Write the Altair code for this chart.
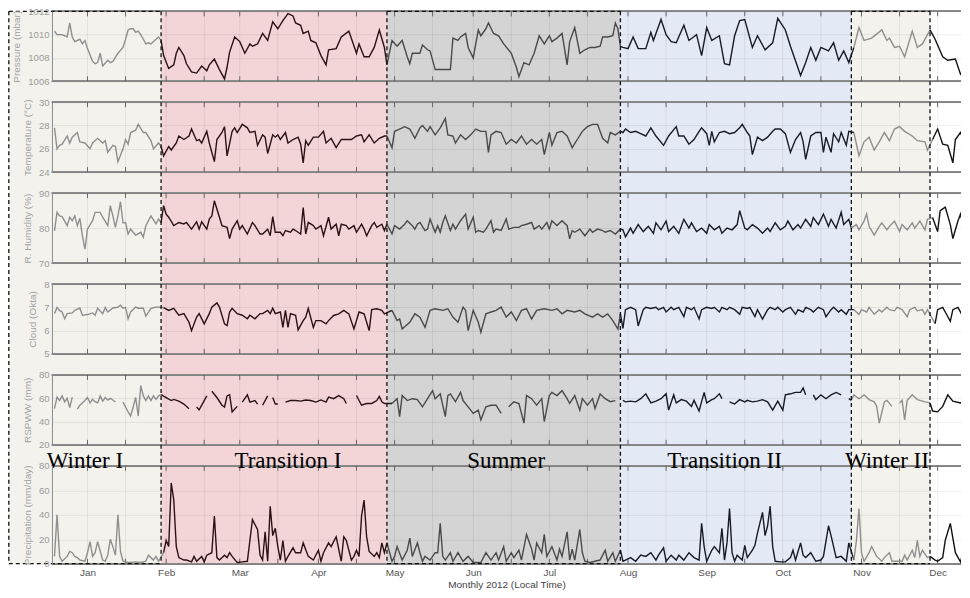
import altair as alt
import pandas as pd

# ---------------- time frame ----------------
START = "2011-12-18"
season_names = ["Winter I", "Transition I", "Summer", "Transition II", "Winter II"]
season_start = ["2011-12-01", "2012-01-30", "2012-04-28", "2012-07-29", "2012-10-28"]
season_end = ["2012-01-30", "2012-04-28", "2012-07-29", "2012-10-28", "2012-11-28"]
season_fill = ["#f3f2ed", "#f3d5d7", "#d4d4d4", "#e3e9f5", "#f3f2ed"]
line_colors = ["#8f8f8f", "#2a1114", "#4a4a4a", "#161b27", "#8f8f8f", "#121212"]
label_dates = ["2011-12-31", "2012-03-20", "2012-06-14", "2012-09-08", "2012-11-11"]
box_start = ["2011-12-01", "2012-04-28", "2012-10-28"]
box_end = ["2012-01-30", "2012-07-29", "2012-11-28"]
boundaries = ["2011-12-01", "2012-01-30", "2012-04-28", "2012-07-29", "2012-10-28", "2012-11-28"]
month_ticks = ["2012-01-01", "2012-01-16", "2012-02-01", "2012-02-16", "2012-03-01", "2012-03-16",
               "2012-04-01", "2012-04-16", "2012-05-01", "2012-05-16", "2012-06-01", "2012-06-16",
               "2012-07-01", "2012-07-16", "2012-08-01", "2012-08-16", "2012-09-01", "2012-09-16",
               "2012-10-01", "2012-10-16", "2012-11-01", "2012-11-16", "2012-12-01"]

# ---------------- series (day offset from START, value) ----------------
pressure_day = [1, 2, 4, 6, 7, 8, 9, 11, 12, 13, 14, 16, 17, 18, 19, 20, 22, 23, 24, 26, 28, 29, 30, 31, 32, 33, 34, 35, 36, 37, 38, 39, 41, 42, 43,
                44, 46, 48, 49, 50, 52, 53, 55, 57, 59, 61, 62, 64, 66, 68, 69, 70, 72, 74, 76, 78, 79, 81, 83, 85, 87, 89, 91, 93, 95, 96, 98, 99, 101, 102, 104, 106, 108, 109, 112, 114, 117, 120, 121, 123, 125, 127, 129, 131, 132,
                134, 136, 138, 140, 141, 142, 145, 146, 148, 149, 151, 154, 157, 158, 160, 161, 163, 164, 166, 168, 169, 171, 172, 174, 176, 178, 181, 183, 184, 186, 188, 190, 192, 194, 196, 197, 199, 201, 203, 204, 206, 208, 210, 212, 214, 216, 217, 219, 221, 222, 223, 224,
                225, 227, 229, 231, 234, 236, 237, 240, 242, 244, 246, 249, 251, 254, 256, 258, 260, 263, 265, 267, 269, 271, 273, 276, 278, 281, 284, 286, 289, 291, 295, 297, 299, 301, 303, 306, 308, 310, 312, 314,
                316, 318, 320, 323, 327, 329, 330, 332, 334, 336, 339, 341, 343, 346,
                348, 351, 353, 356, 358, 360]
pressure_val = [1010.3, 1010.0, 1010.0, 1009.8, 1011.0, 1009.8, 1009.4, 1009.6, 1009.2, 1009.5, 1008.8, 1007.7, 1007.5, 1007.6, 1008.4, 1007.3, 1007.8, 1007.6, 1007.7, 1008.4, 1008.9, 1009.6, 1010.4, 1010.5, 1010.5, 1010.2, 1010.3, 1010.0, 1009.6, 1009.2, 1009.3, 1009.2, 1009.6, 1009.8, 1009.5,
                1008.2, 1007.1, 1007.4, 1008.4, 1008.9, 1008.2, 1007.5, 1006.8, 1006.7, 1007.3, 1006.9, 1007.4, 1007.9, 1007.0, 1006.2, 1007.2, 1008.5, 1009.8, 1009.4, 1008.4, 1009.2, 1009.0, 1009.2, 1010.1, 1009.5, 1011.1, 1010.5, 1011.2, 1011.8, 1011.6, 1011.0, 1010.8, 1010.1, 1010.3, 1009.5, 1009.3, 1008.2, 1007.4, 1008.7, 1008.8, 1009.8, 1010.3, 1008.4, 1009.2, 1008.1, 1008.1, 1008.9, 1010.4, 1008.9, 1007.4,
                1009.5, 1009.0, 1009.5, 1008.1, 1007.5, 1008.4, 1008.4, 1009.1, 1008.7, 1008.6, 1007.0, 1007.0, 1007.0, 1009.7, 1009.5, 1009.8, 1010.1, 1008.9, 1008.0, 1010.4, 1009.9, 1010.5, 1011.0, 1010.1, 1009.9, 1009.2, 1008.4, 1007.2, 1006.4, 1007.6, 1007.4, 1008.4, 1009.9, 1009.2, 1009.9, 1009.4, 1009.7, 1010.1, 1007.4, 1009.4, 1010.6, 1008.4, 1008.7, 1008.9, 1008.9, 1009.0, 1009.8, 1009.8, 1009.9, 1011.0, 1010.5, 1009.0,
                1008.9, 1008.8, 1009.8, 1008.8, 1008.8, 1010.2, 1009.5, 1011.3, 1010.0, 1009.4, 1009.3, 1010.8, 1009.5, 1010.0, 1008.2, 1010.6, 1009.5, 1009.9, 1007.5, 1007.4, 1009.9, 1011.2, 1011.3, 1008.9, 1009.9, 1008.7, 1009.3, 1011.4, 1010.4, 1009.0, 1006.5, 1007.6, 1008.9, 1007.8, 1008.9, 1008.6, 1009.3, 1007.8, 1008.6, 1007.6,
                1008.9, 1010.6, 1009.5, 1009.7, 1010.4, 1009.5, 1009.7, 1008.9, 1009.0, 1008.1, 1010.3, 1008.9, 1009.2, 1010.4,
                1009.6, 1008.1, 1007.8, 1007.9, 1006.6, 1007.1]

temp_day = [1, 2, 3, 4, 6, 7, 8, 10, 11, 13, 15, 16, 18, 20, 21, 22, 24, 25, 26, 28, 29, 30, 31, 33, 34, 36, 37, 39, 40, 42, 43,
            44, 46, 47, 49, 50, 52, 54, 55, 57, 58, 59, 61, 62, 64, 65, 67, 68, 69, 71, 72, 73, 75, 77, 78, 80, 81, 83, 84, 85, 87, 88, 89, 90, 92, 93, 95, 97, 98, 99, 100, 101, 103, 105, 107, 108, 110, 112, 114, 116, 118, 120, 122, 123, 125, 127, 129, 131,
            132, 134, 135, 137, 139, 141, 143, 145, 146, 148, 149, 151, 153, 155, 156, 158, 159, 161, 163, 165, 167, 169, 171, 172, 173, 175, 177, 179, 181, 183, 185, 187, 189, 191, 193, 194, 196, 197, 199, 201, 203, 205, 207, 209, 211, 213, 215, 217, 219, 220, 222, 224,
            225, 226, 228, 230, 232, 234, 236, 238, 241, 243, 246, 247, 249, 251, 253, 255, 256, 258, 259, 260, 261, 263, 265, 267, 269, 271, 272, 274, 275, 276, 278, 280, 282, 284, 285, 287, 289, 291, 293, 295, 296, 297, 299, 301, 303, 304, 305, 307, 308, 310, 311, 313, 314,
            316, 318, 320, 322, 324, 326, 328, 330, 332, 334, 336, 339, 341, 344, 345,
            347, 349, 351, 353, 355, 356, 358, 360]
temp_val = [27.8, 26.0, 26.3, 26.4, 27.1, 26.5, 27.0, 27.4, 26.6, 26.5, 26.0, 26.5, 26.9, 26.5, 26.7, 25.7, 26.3, 26.2, 24.9, 26.0, 26.8, 26.4, 27.4, 27.6, 28.1, 27.4, 27.4, 26.7, 26.0, 26.5, 26.2,
            25.4, 26.2, 25.9, 26.5, 27.1, 26.8, 27.1, 27.7, 26.7, 26.8, 26.5, 27.5, 26.5, 24.9, 26.8, 27.4, 27.9, 25.4, 27.5, 27.8, 27.4, 28.1, 27.8, 27.4, 27.5, 26.3, 27.2, 27.0, 25.6, 27.2, 27.0, 27.2, 26.8, 27.4, 26.5, 26.8, 27.0, 26.4, 24.8, 26.7, 26.3, 27.0, 27.0, 27.5, 26.5, 26.9, 26.1, 26.8, 26.8, 26.8, 27.1, 27.2, 26.6, 27.2, 26.5, 26.9, 27.1,
            27.1, 26.1, 27.5, 27.7, 27.9, 27.7, 26.9, 27.8, 28.0, 27.5, 27.9, 27.2, 27.8, 28.6, 27.2, 27.1, 26.5, 27.2, 26.8, 27.2, 27.7, 27.5, 27.5, 25.7, 27.2, 27.5, 27.4, 26.4, 26.8, 26.5, 27.1, 26.4, 26.8, 26.4, 26.8, 25.5, 27.4, 26.3, 27.4, 27.5, 27.1, 26.1, 26.8, 27.5, 27.9, 28.1, 28.1, 26.9, 26.5, 27.4, 27.2, 27.5,
            27.4, 27.7, 27.4, 27.5, 27.3, 27.1, 27.8, 27.1, 26.3, 27.1, 27.9, 27.1, 27.1, 26.4, 26.8, 27.5, 27.8, 27.3, 26.3, 27.5, 26.6, 27.4, 27.5, 27.3, 27.4, 27.8, 28.1, 27.4, 27.1, 25.5, 27.0, 26.7, 27.0, 27.5, 27.7, 27.7, 27.3, 25.7, 26.8, 27.4, 26.6, 25.1, 27.1, 27.4, 27.4, 25.7, 27.0, 25.7, 27.3, 26.6, 27.4, 26.3, 27.5,
            27.4, 25.4, 26.6, 27.0, 25.9, 26.6, 27.4, 26.7, 27.7, 27.9, 27.5, 27.1, 26.7, 26.6, 25.9,
            26.8, 27.7, 26.4, 26.3, 24.8, 26.8, 27.4, 26.4]

hum_day = [1, 2, 3, 4, 6, 7, 8, 9, 10, 11, 12, 13, 14, 16, 17, 19, 20, 22, 23, 24, 25, 26, 27, 28, 29, 30, 31, 32, 33, 35, 36, 37, 39, 41, 42,
           43, 44, 45, 46, 48, 50, 52, 53, 55, 57, 58, 59, 61, 62, 63, 64, 66, 67, 69, 70, 71, 73, 74, 75, 77, 79, 80, 82, 83, 85, 86, 87, 88, 90, 91, 92, 94, 95, 96, 98, 99, 100, 101, 103, 104, 106, 107, 109, 110, 112, 113, 114, 116, 117, 119, 120, 122, 123, 124, 126, 127, 128, 130, 131,
           132, 134, 135, 137, 139, 140, 142, 143, 144, 145, 147, 148, 149, 151, 152, 153, 154, 155, 157, 158, 159, 161, 163, 164, 166, 167, 168, 170, 171, 173, 174, 175, 177, 179, 180, 182, 184, 185, 187, 189, 190, 192, 193, 195, 196, 197, 199, 201, 203, 204, 205, 206, 208, 210, 212, 213, 215, 217, 218, 220, 222, 224,
           225, 226, 228, 229, 231, 233, 235, 237, 238, 240, 242, 243, 245, 247, 249, 251, 252, 254, 256, 258, 259, 261, 263, 264, 266, 268, 270, 271, 273, 274, 276, 278, 280, 282, 283, 285, 287, 289, 290, 292, 294, 295, 297, 299, 300, 302, 304, 306, 307, 309, 311, 312, 314,
           315, 317, 318, 320, 321, 322, 324, 326, 327, 329, 330, 332, 334, 335, 337, 339, 340, 342, 344, 345,
           347, 349, 350, 352, 354, 355, 357, 358, 360, 361]
hum_val = [79.2, 84.5, 83.5, 83.3, 80.7, 83.1, 82.1, 83.5, 80.7, 82.8, 77.8, 74.0, 79.7, 82.1, 84.5, 84.5, 83.1, 80.7, 86.4, 83.5, 80.2, 83.5, 87.5, 81.5, 81.6, 78.3, 79.7, 78.8, 78.0, 78.8, 77.4, 80.7, 83.5, 81.2, 82.6,
           81.6, 86.4, 84.0, 83.1, 80.7, 81.6, 81.2, 81.6, 79.7, 81.8, 79.7, 81.8, 79.7, 82.6, 83.5, 87.8, 83.1, 80.7, 80.2, 77.0, 79.7, 82.1, 79.7, 80.7, 78.3, 81.6, 80.7, 78.3, 78.3, 79.7, 77.8, 83.3, 78.8, 78.8, 77.8, 79.3, 78.8, 79.7, 79.3, 78.3, 85.9, 78.3, 81.6, 80.7, 79.7, 80.7, 77.8, 83.1, 79.7, 81.1, 77.8, 81.1, 80.7, 79.7, 80.7, 78.8, 81.1, 79.7, 77.8, 80.7, 81.6, 80.2, 81.1, 79.3,
           81.1, 78.3, 80.7, 79.7, 81.1, 82.1, 80.7, 79.7, 81.1, 81.6, 79.3, 79.7, 82.6, 78.8, 80.7, 78.8, 81.6, 83.5, 79.3, 81.1, 79.7, 82.1, 84.0, 79.7, 83.1, 78.8, 79.3, 78.8, 79.7, 82.1, 78.8, 79.7, 79.3, 82.6, 79.7, 80.2, 80.2, 80.7, 81.1, 81.6, 79.7, 80.7, 79.7, 81.6, 79.7, 82.1, 80.7, 82.1, 80.7, 76.9, 79.3, 78.8, 79.7, 77.8, 79.7, 78.8, 79.7, 79.3, 78.8, 79.3, 78.3, 79.7,
           79.5, 77.5, 80.0, 78.5, 81.0, 79.0, 80.5, 78.5, 81.5, 79.5, 82.0, 79.0, 80.5, 78.5, 82.5, 80.0, 81.5, 79.0, 80.0, 78.5, 81.0, 79.5, 80.5, 78.5, 80.0, 79.5, 81.0, 85.0, 80.0, 79.5, 81.0, 80.0, 78.5, 80.0, 79.0, 81.5, 79.5, 80.5, 82.0, 79.5, 81.0, 80.0, 82.5, 80.5, 83.0, 81.0, 84.0, 80.5, 82.5, 80.0, 84.5, 81.0, 82.5,
           80.0, 81.0, 79.5, 82.0, 84.0, 80.5, 78.0, 80.5, 81.5, 79.5, 80.5, 82.0, 79.0, 81.0, 79.5, 81.5, 80.0, 82.0, 79.5, 82.5,
           83.0, 79.0, 85.0, 86.0, 81.0, 77.0, 82.0, 84.0, 78.0, 82.0]

cloud_day = [1, 2, 3, 4, 5, 6, 8, 9, 11, 12, 14, 16, 17, 18, 20, 21, 22, 24, 26, 27, 28, 29, 30, 31, 33, 34, 36, 37, 39, 41, 42,
             44, 46, 48, 50, 52, 54, 55, 57, 58, 60, 62, 63, 65, 66, 68, 69, 70, 71, 73, 75, 77, 78, 80, 82, 83, 85, 86, 87, 88, 90, 91, 92, 93, 94, 96, 97, 99, 100, 101, 103, 104, 106, 108, 109, 111, 113, 115, 117, 119, 121, 123, 125, 126, 128, 130, 131,
             134, 136, 137, 138, 141, 143, 145, 147, 149, 151, 154, 156, 158, 160, 162, 163, 164, 166, 168, 169, 171, 173, 175, 177, 179, 181, 183, 185, 187, 189, 191, 194, 197, 199, 201, 203, 206, 208, 210, 213, 215, 217, 219, 221, 223, 224,
             225, 226, 228, 230, 231, 233, 234, 236, 238, 239, 241, 242, 244, 245, 247, 249, 250, 252, 253, 255, 256, 258, 260, 261, 263, 264, 266, 267, 269, 271, 272, 274, 275, 277, 278, 280, 282, 283, 285, 286, 288, 289, 291, 293, 294, 296, 297, 299, 300, 302, 304, 305, 307, 308, 310, 311, 313, 314,
             316, 318, 319, 321, 322, 324, 326, 327, 329, 330, 332, 333, 335, 337, 338, 340, 341, 343, 344, 345,
             348, 349, 351, 352, 354, 355, 357, 359, 360]
cloud_val = [6.73, 6.99, 6.87, 6.80, 6.51, 6.73, 6.76, 6.87, 6.97, 6.66, 6.69, 6.76, 6.66, 6.96, 6.73, 6.99, 6.80, 6.97, 7.01, 7.09, 6.96, 6.99, 6.51, 6.80, 7.01, 6.96, 6.96, 6.62, 6.96, 7.01, 7.01,
             6.99, 6.87, 6.96, 6.66, 6.73, 6.36, 6.00, 6.58, 6.73, 6.29, 6.73, 7.01, 7.19, 7.01, 6.29, 6.22, 6.80, 6.96, 6.73, 6.66, 6.51, 6.66, 6.51, 6.73, 6.73, 6.87, 6.73, 6.96, 6.73, 6.80, 6.14, 6.87, 6.14, 6.73, 6.66, 6.03, 6.43, 6.58, 6.96, 6.14, 6.43, 6.43, 6.29, 6.43, 6.65, 6.72, 6.87, 6.72, 6.07, 6.80, 6.72, 6.00, 6.90, 6.94, 6.87, 6.72,
             6.87, 6.43, 6.50, 6.07, 6.36, 6.72, 6.58, 6.14, 6.87, 6.94, 6.87, 6.94, 6.58, 6.36, 7.01, 6.87, 6.00, 6.87, 6.36, 5.93, 6.72, 6.80, 6.87, 7.01, 6.58, 6.80, 6.43, 6.87, 6.94, 6.50, 6.87, 6.94, 6.87, 6.94, 6.72, 6.87, 6.80, 6.87, 6.72, 6.58, 6.72, 6.58, 6.72, 6.43, 6.07, 6.72,
             6.10, 6.90, 7.00, 6.90, 6.20, 6.90, 7.00, 6.95, 7.00, 6.90, 7.00, 6.80, 7.00, 6.90, 7.00, 6.60, 7.00, 6.90, 7.00, 6.50, 6.90, 7.00, 6.95, 7.00, 6.80, 7.00, 6.90, 7.00, 6.90, 6.70, 7.00, 6.95, 7.00, 6.60, 6.90, 6.50, 6.90, 7.00, 6.90, 7.00, 6.80, 6.90, 7.00, 6.70, 6.90, 6.80, 7.00, 6.90, 6.80, 7.00, 6.90, 6.60, 6.90, 7.00, 6.80, 6.90, 6.70, 6.90,
             6.90, 6.70, 6.90, 6.80, 7.00, 6.70, 6.90, 6.80, 7.00, 6.90, 6.85, 7.00, 6.90, 6.60, 6.90, 7.00, 6.85, 6.90, 6.70, 6.90,
             6.30, 6.90, 7.00, 6.80, 6.40, 6.90, 7.00, 6.60, 7.00]

rspww_day = [1, 2, 3, 4, 5, 6, 7, 8, 9, 10, 11, 12, 13, 14, 15, 16, 17, 18, 19, 20, 21, 22, 23, 24, 25, 26, 28, 29, 30, 31, 32, 33, 34, 35, 36, 37, 38, 39, 40, 41, 42,
             43, 45, 47, 48, 50, 52, 54, 55, 57, 58, 60, 61, 62, 63, 65, 67, 68, 69, 70, 71, 73, 74, 75, 77, 78, 80, 81, 82, 83, 85, 86, 87, 88, 89, 90, 92, 94, 96, 98, 100, 102, 104, 106, 108, 109, 111, 113, 115, 116, 117, 120, 122, 124, 126, 128, 129, 130, 131,
             134, 136, 137, 138, 140, 142, 144, 146, 148, 150, 151, 153, 155, 156, 157, 159, 161, 162, 164, 166, 168, 169, 171, 173, 175, 177, 178, 180, 182, 184, 186, 187, 189, 191, 193, 194, 196, 197, 199, 201, 203, 204, 206, 208, 209, 211, 213, 214, 216, 218, 220, 222, 223,
             225, 226, 228, 230, 232, 234, 236, 238, 240, 242, 243, 245, 246, 248, 250, 252, 253, 255, 257, 258, 260, 261, 263, 264, 265, 267, 269, 271, 273, 274, 276, 278, 280, 282, 284, 286, 288, 289, 291, 293, 295, 296, 297, 298, 300, 301, 303, 305, 307, 309, 311, 312, 314,
             315, 316, 318, 320, 322, 324, 325, 326, 328, 329, 331, 332, 334, 335, 336, 337, 339, 341, 342, 344, 346,
             347, 349, 351, 353, 355, 358, 360]
rspww_val = [51, 61, 58, 62, 57, 60, 52, 61, None, 50.6, 54, 56, 58, 60.6, 56, 59, 57, 56, 62, 57.5, 60.6, 58.5, 60, 58.5, 56.7, None, 56.7, 52.5, 48.3, 44.7, 52.5, 60.6, 44.7, 70.8, 62, 58, 62, 58, 62, 59, 62,
             63, 60.6, 58, 59, 57.5, 55, 51, None, 52.5, 50, 58, 62, None, 66, 60.6, 54, 52.5, 62, 63, 48.3, 53, None, 56.7, 63, 56.7, 58, 55, None, 54, 62, None, 60.6, 55, 55, None, 56.7, 58, 58, 57.5, 58.5, 58, 56.7, 58.5, 56.7, 61, 59.6, 62.3, 59.6, 55.5, None, 62.3, 54, 55.5, 55.5, 58, 61.5, 57, 55.5,
             55.5, 59.6, 44.2, 62.3, 58, 59.6, 58.8, 52.6, 59.6, 66.5, 59.6, 63.7, 44.2, 62.3, 63.7, 57, 65, 58, 52.6, 47, 49.8, 41.3, 52.6, 54, 54, 47, None, 52.6, 57, 55.5, 38.6, 62.3, 59.6, 54, 59.6, 40, 62.3, 65, 62.3, 66.5, 59.6, 55.5, 62.3, 49.8, 59.6, 54, 59.6, 51.2, 63.7, 59.6, 57, 58, None,
             58.2, 56.9, 57.5, 56.9, 59.6, 63.8, 56, 57.5, 59.6, 63.8, 49.8, 62.9, 56, 58.8, 57.5, 53, 58.2, 49, 65, 56, 58.8, 59.6, 63.8, 59.6, None, 56.9, 55, 58.8, 56.9, 58.2, 56.9, 57.5, 58.8, 56.9, 49.8, 57.5, 49.8, 62.9, 63.8, 65, 65, 68.8, 62.9, None, 62.9, 58.8, 62.9, 59.6, 62.9, 65, 62.9, None, 59.6,
             58.2, 62.9, 59.6, 62.9, 58.8, 56.9, 53, 38.6, 56.9, 58.2, 53, None, 56, 58.2, 41.3, 58.2, 62.9, 58.8, 58.2, 56.9, 56,
             49, 48.3, 53, 62.9, 57.5, 56, 58.2]

precip_day = [1, 2, 3, 4, 6, 7, 8, 9, 10, 11, 13, 14, 15, 16, 17, 18, 20, 21, 22, 23, 24, 25, 26, 27, 28, 30, 31, 33, 35, 37, 38, 40, 41, 42,
              44, 45, 46, 47, 48, 49, 50, 52, 53, 55, 56, 57, 59, 60, 61, 63, 64, 65, 66, 68, 69, 70, 71, 73, 75, 77, 78, 79, 81, 82, 83, 84, 85, 86, 87, 88, 89, 90, 91, 92, 93, 95, 96, 98, 99, 101, 103, 105, 106, 107, 109, 110, 112, 114, 115, 116, 118, 119, 120, 121, 122, 123, 124, 125, 127, 128, 129, 130, 131,
              132, 134, 135, 136, 138, 140, 141, 142, 144, 145, 146, 147, 149, 151, 152, 153, 154, 155, 157, 158, 160, 162, 164, 166, 168, 169, 171, 173, 175, 176, 178, 179, 181, 182, 184, 185, 187, 189, 190, 191, 193, 194, 195, 197, 199, 200, 201, 203, 204, 205, 206, 208, 209, 210, 212, 214, 216, 218, 219, 221, 222, 224,
              225, 226, 228, 230, 232, 234, 236, 238, 239, 241, 242, 244, 246, 247, 249, 251, 253, 255, 256, 257, 258, 260, 261, 263, 264, 265, 266, 267, 268, 269, 270, 272, 273, 274, 276, 277, 278, 280, 281, 282, 283, 284, 285, 287, 289, 291, 292, 293, 295, 296, 297, 299, 301, 303, 304, 306, 307, 309, 311, 313, 314,
              316, 317, 318, 319, 320, 322, 323, 325, 327, 328, 330, 331, 333, 335, 336, 337, 339, 340, 341, 342, 343, 345,
              346, 348, 349, 351, 352, 354, 356, 358, 359, 361]
precip_val = [6, 40, 6, 2, 6, 10, 9, 6, 5, 3, 2, 9, 18, 6, 9, 18, 3, 2, 7, 20, 14, 7, 40, 10, 2, 1, 1, 1.5, 1, 2, 7, 3, 6, 2,
              9, 19, 14, 66, 52, 14, 5, 3, 3, 1.5, 6, 2, 6, 1.5, 7, 9, 39, 5, 3, 7, 5, 9, 6, 1, 1.5, 2, 19, 36, 28, 7, 3, 26, 2, 47, 23, 29, 14, 3, 19, 2, 6, 13, 9, 9, 17, 6, 3, 11, 2, 9, 17, 14, 22, 2, 22, 19, 3, 6, 11, 6, 39, 52, 22, 10, 6, 9, 5, 17, 9,
              17, 2, 6, 14, 3, 11, 21, 6, 17, 9, 2, 6, 3, 9, 9, 33, 6, 3, 9, 2, 9, 2, 6, 1, 1, 1, 9, 3, 9, 3, 14, 2, 9, 5, 11, 3, 24, 12, 3, 17, 9, 24, 6, 14, 3, 12, 6, 26, 3, 12, 3, 28, 9, 2, 1, 2, 3, 11, 2, 9, 2, 11,
              2, 3, 5, 2, 7, 6, 9, 3, 7, 13, 2, 7, 3, 7, 3, 9, 5, 3, 33, 14, 2, 11, 14, 9, 29, 3, 17, 45, 9, 2, 7, 3, 15, 5, 11, 15, 25, 42, 23, 31, 47, 14, 2, 1.5, 1.5, 5, 11, 3, 17, 7, 5, 9, 2, 3, 6, 31, 23, 5, 6, 2, 17,
              3, 19, 45, 9, 2, 9, 14, 6, 2, 5, 9, 2, 2, 2, 7, 3, 11, 5, 19, 6, 11, 5,
              6, 3, 2, 5, 19, 33, 9, 1.5, 9, 13]

# ---------------- build tables ----------------
start = pd.Timestamp(START)
cuts = [pd.Timestamp(s) for s in season_end]


def seg_of(t):
    for i, c in enumerate(cuts):
        if t < c:
            return i
    return len(cuts)


def series_frame(days, vals):
    dates = [start + pd.Timedelta(days=d) for d in days]
    rows, piece, n = [], 0, len(days)
    for i in range(n):
        if vals[i] is None:
            piece += 1
            continue
        s = seg_of(dates[i])
        g = f"{s}-{piece}"
        rows.append({"date": dates[i], "v": vals[i], "col": line_colors[s], "grp": g})
        if i + 1 < n and vals[i + 1] is not None and seg_of(dates[i + 1]) != s:
            rows.append({"date": dates[i + 1], "v": vals[i + 1], "col": line_colors[s], "grp": g})
    return pd.DataFrame(rows)


season_df = pd.DataFrame({"name": season_names, "start": pd.to_datetime(season_start),
                          "end": pd.to_datetime(season_end), "fill": season_fill})
tick_df = pd.DataFrame({"date": pd.to_datetime(month_ticks)})
bound_df = pd.DataFrame({"date": pd.to_datetime(boundaries)})
box_df = pd.DataFrame({"start": pd.to_datetime(box_start), "end": pd.to_datetime(box_end)})
label_df = pd.DataFrame({"date": pd.to_datetime(label_dates), "text": season_names})

W = 910
GAP = 21
FONT = "Liberation Sans"

xscale = alt.Scale(domain=[alt.DateTime(year=2011, month=12, date=18),
                           alt.DateTime(year=2012, month=12, date=10, hours=5)])
month_vals = [alt.DateTime(year=2012, month=m, date=1) for m in range(1, 13)]
bottom_axis = alt.Axis(values=month_vals, format="%b", ticks=False, domain=False, grid=False,
                       labelPadding=4, labelFontSize=10, labelColor="#555555", labelFont=FONT,
                       title="Monthly 2012 (Local Time)", titleFontSize=10, titleFontWeight="normal",
                       titleColor="#444444", titleFont=FONT, titlePadding=2, zindex=1)

panels_spec = [
    ("Pressure (mbar)", pressure_day, pressure_val, [1006, 1012], [1006, 1008, 1010, 1012], 70),
    ("Temperature (°C)", temp_day, temp_val, [24, 30], [24, 26, 28, 30], 70),
    ("R. Humidity (%)", hum_day, hum_val, [70, 90], [70, 80, 90], 70),
    ("Cloud (Okta)", cloud_day, cloud_val, [5, 8], [5, 6, 7, 8], 70),
    ("RSPWW (mm)", rspww_day, rspww_val, [20, 80], [20, 40, 60, 80], 70),
    ("Precipitation (mm/day)", precip_day, precip_val, [0, 80], [0, 20, 40, 60, 80], 98),
]

panels = []
for k, (title, days, vals, dom, yt, H) in enumerate(panels_spec):
    first = k == 0
    last = k == len(panels_spec) - 1
    ext = H if last else H + GAP
    ax = bottom_axis if last else None

    def xf(field):
        return alt.X(f"{field}:T", scale=xscale, axis=ax)

    shade = alt.Chart(season_df).mark_rect().encode(
        x=xf("start"), x2=alt.X2("end:T"), y=alt.value(0), y2=alt.value(ext),
        fill=alt.Fill("fill:N", scale=None))
    vgrid = alt.Chart(tick_df).mark_rule(color="#000000", opacity=0.07).encode(
        x=xf("date"), y=alt.value(0), y2=alt.value(H))
    btop = alt.Chart(tick_df).mark_rule(color="#8c8c8c", strokeWidth=1).encode(
        x=alt.value(0), x2=alt.value(W), y=alt.value(0))
    bbot = alt.Chart(tick_df).mark_rule(color="#8c8c8c", strokeWidth=1).encode(
        x=alt.value(0), x2=alt.value(W), y=alt.value(H))
    tk_top = alt.Chart(tick_df).mark_rule(color="#666666", strokeWidth=1).encode(
        x=xf("date"), y=alt.value(0), y2=alt.value(5))
    tk_bot = alt.Chart(tick_df).mark_rule(color="#666666", strokeWidth=1).encode(
        x=xf("date"), y=alt.value(H - 5), y2=alt.value(H))
    yaxis = alt.Axis(values=yt, format="d", title=title, grid=True, gridColor="#000000", gridOpacity=0.07,
                     ticks=False, domain=True, domainColor="#8c8c8c", labelColor="#9b9b9b",
                     labelFontSize=9.5, labelPadding=3, labelFont=FONT, titleColor="#a3a3a3",
                     titleFontSize=10, titleFontWeight="normal", titleFont=FONT, titlePadding=6,
                     zindex=1)
    line = alt.Chart(series_frame(days, vals)).mark_line(strokeWidth=1.4, clip=True).encode(
        x=xf("date"),
        y=alt.Y("v:Q", scale=alt.Scale(domain=dom, nice=False, zero=False), axis=yaxis),
        stroke=alt.Stroke("col:N", scale=None),
        detail="grp:N")
    dash_v = alt.Chart(bound_df).mark_rule(color="#111111", strokeWidth=1.3, strokeDash=[4, 3]).encode(
        x=xf("date"), y=alt.value(0), y2=alt.value(ext))
    layers = [shade, vgrid, btop, bbot, tk_top, tk_bot, line, dash_v]
    if first:
        layers.append(alt.Chart(box_df).mark_rule(color="#111111", strokeWidth=1.3, strokeDash=[4, 3]).encode(
            x=xf("start"), x2=alt.X2("end:T"), y=alt.value(0)))
    if last:
        layers.append(alt.Chart(box_df).mark_rule(color="#111111", strokeWidth=1.3, strokeDash=[4, 3]).encode(
            x=xf("start"), x2=alt.X2("end:T"), y=alt.value(H)))
        layers.append(alt.Chart(label_df).mark_text(font="Liberation Serif", fontSize=23, baseline="alphabetic",
                                                    align="center", color="#000000").encode(
            x=xf("date"), y=alt.value(2), text="text:N"))
    panels.append(alt.layer(*layers).properties(width=W, height=H))

chart = alt.VConcatChart(vconcat=panels, spacing=GAP, bounds="flush",
                         padding={"left": 0, "top": -2, "right": 0, "bottom": 0}
                         ).configure_view(stroke=None)

chart.save("out.html", embed_options={"renderer": "svg", "actions": False})
